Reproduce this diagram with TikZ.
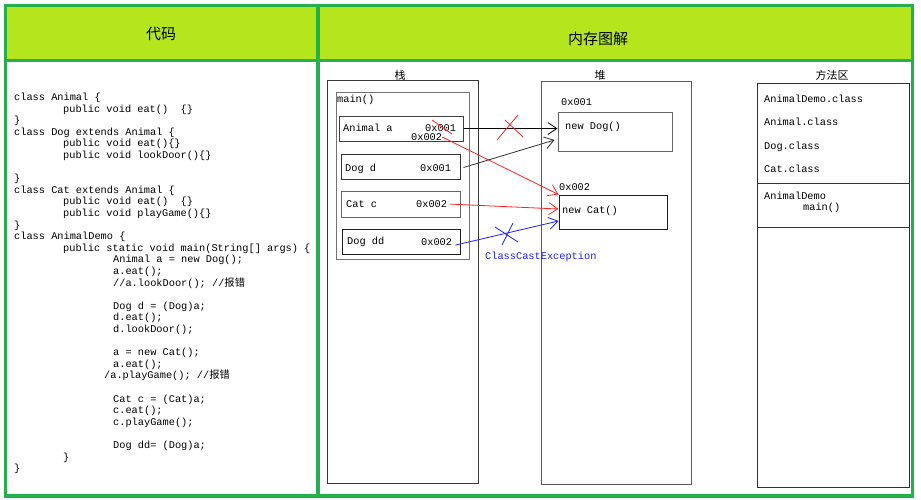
\documentclass[tikz,border=0pt]{standalone}
\usepackage{fontspec}
\setmonofont{Liberation Mono}
\newfontfamily\cjk{Noto Sans CJK SC}
\usetikzlibrary{arrows.meta}
\definecolor{gborder}{HTML}{22B14C}
\definecolor{limefill}{HTML}{B5E61D}
\definecolor{lred}{HTML}{FF2020}
\definecolor{lblue}{HTML}{2020FF}
\newcommand\codefont{\ttfamily\fontsize{10.3}{12}\selectfont}
\tikzset{
  codetxt/.style={anchor=base west, inner sep=0pt, font=\codefont},
  conn/.style={-{Straight Barb[length=9pt,width=12pt]}, line width=0.8pt},
  cross/.style={line width=0.8pt},
  frame/.style={draw=#1, line width=1pt},
  head/.style={font=\cjk\fontsize{15}{18}\selectfont, inner sep=0pt},
  area/.style={font=\cjk\fontsize{11}{13}\selectfont, inner sep=0pt},
}
\newcommand\codeln[3]{\node[codetxt] (code#1) at ({14+#2},{100.5+(#1-1)*11.6}) {#3};}
\newcommand\boxat[6]{\node[#1, inner sep=0pt, minimum width={(#5-#3)*1pt}, minimum height={(#6-#4)*1pt}] (#2) at ({(#3+#5)/2},{(#4+#6)/2}) {};}
\begin{document}
\begin{tikzpicture}[x=1pt,y=-1pt]
\useasboundingbox (0,0) rectangle (921,499);
\fill[white] (0,0) rectangle (921,499);
% table
\fill[limefill] (5.5,5.5) rectangle (912.5,60.5);
\draw[gborder, line width=3.5pt] (5.5,5.5) rectangle (912.5,496);
\draw[gborder, line width=3.5pt] (5.5,60.5) -- (912.5,60.5);
\draw[gborder, line width=3.5pt] (318,5.5) -- (318,496);
\node[head] (hcode) at (161,34) {代码};
\node[head] (hmem) at (598,39) {内存图解};
% code
\codeln{1}{0}{class Animal \{}
\codeln{2}{49}{public void eat()~~\{\}}
\codeln{3}{0}{\}}
\codeln{4}{0}{class Dog extends Animal \{}
\codeln{5}{49}{public void eat()\{\}}
\codeln{6}{49}{public void lookDoor()\{\}}
\codeln{8}{0}{\}}
\codeln{9}{0}{class Cat extends Animal \{}
\codeln{10}{49}{public void eat()~~\{\}}
\codeln{11}{49}{public void playGame()\{\}}
\codeln{12}{0}{\}}
\codeln{13}{0}{class AnimalDemo \{}
\codeln{14}{49}{public static void main(String[] args) \{}
\codeln{15}{99}{Animal a = new Dog();}
\codeln{16}{99}{a.eat();}
\codeln{17}{99}{//a.lookDoor(); //{\cjk 报错}}
\codeln{19}{99}{Dog d = (Dog)a;}
\codeln{20}{99}{d.eat();}
\codeln{21}{99}{d.lookDoor();}
\codeln{23}{99}{a = new Cat();}
\codeln{24}{99}{a.eat();}
\codeln{25}{90}{/a.playGame(); //{\cjk 报错}}
\codeln{27}{99}{Cat c = (Cat)a;}
\codeln{28}{99}{c.eat();}
\codeln{29}{99}{c.playGame();}
\codeln{31}{99}{Dog dd= (Dog)a;}
\codeln{32}{49}{\}}
\codeln{33}{0}{\}}
% area labels
\node[area] (lstack) at (400,75) {栈};
\node[area] (lheap) at (600,75) {堆};
\node[area] (lmethod) at (832,75) {方法区};
% stack
\boxat{frame=black!78}{stack}{327}{80}{478}{483}
\boxat{frame=black!55}{mainf}{336}{92}{469}{259}
\node[codetxt] (mainlbl) at (337,102.5) {main()};
\boxat{frame=black!75}{aBox}{339}{116}{463}{141}
\boxat{frame=black!80}{dBox}{341}{154}{460}{179}
\boxat{frame=black!60}{cBox}{341}{191}{460}{217}
\boxat{frame=black!88}{ddBox}{342}{229}{460}{254}
\node[codetxt] (aName) at (343,131.5) {Animal a};
\node[codetxt] (aAddr) at (425,131.5) {0x001};
\node[codetxt] (aAddr2) at (411,140.5) {0x002};
\node[codetxt] (dName) at (345,171) {Dog d};
\node[codetxt] (dAddr) at (420,171.5) {0x001};
\node[codetxt] (cName) at (346,207) {Cat c};
\node[codetxt] (cAddr) at (416,207.5) {0x002};
\node[codetxt] (ddName) at (347,244.5) {Dog dd};
\node[codetxt] (ddAddr) at (421,245.5) {0x002};
% heap
\boxat{frame=black!65}{heap}{541}{81}{691}{484}
\node[codetxt] (dogAddr) at (561,105.5) {0x001};
\boxat{frame=black!60}{dogObj}{558}{112}{672}{151}
\node[codetxt] (dogTxt) at (565,129.5) {new Dog()};
\node[codetxt] (catAddr) at (559,190.5) {0x002};
\boxat{frame=black!88}{catObj}{559}{195}{667}{229}
\node[codetxt] (catTxt) at (562,213.5) {new Cat()};
% method area
\boxat{frame=black!82}{method}{757}{83}{909}{487}
\draw[black!80, line width=1pt] (757,183) -- (909,183);
\draw[black!80, line width=1pt] (757,227) -- (909,227);
\node[codetxt] (m1) at (764,102.5) {AnimalDemo.class};
\node[codetxt] (m2) at (764,125.5) {Animal.class};
\node[codetxt] (m3) at (764,149.5) {Dog.class};
\node[codetxt] (m4) at (764,172.5) {Cat.class};
\node[codetxt] (m5) at (764,199.5) {AnimalDemo};
\node[codetxt] (m6) at (803,210.5) {main()};
% connectors
\draw[conn, black] (aBox.east) -- (aBox.east -| dogObj.west);
\draw[conn, black!80] ([xshift=3pt,yshift=-1pt]dBox.east) -- ([xshift=-3pt,yshift=-8.5pt]dogObj.west);
\draw[conn, lred] (aAddr2.east) -- (catObj.north west);
\draw[conn, lred] ([xshift=3pt]cAddr.east) -- ([yshift=3pt]catObj.west);
\draw[conn, lblue] ([xshift=3pt,yshift=-3pt]ddAddr.east) -- ([yshift=-9pt]catObj.west);
% crosses
\draw[cross, lred] (432,120) -- (452,134);
\draw[cross, lred] (497,140) -- (518,115);
\draw[cross, lred] (505,120) -- (523,137);
\draw[cross, lblue] (495,227) -- (518,242);
\draw[cross, lblue] (502,245) -- (513,223);
\node[codetxt, text=lblue] (cce) at (485,259.5) {ClassCastException};
\end{tikzpicture}
\end{document}
